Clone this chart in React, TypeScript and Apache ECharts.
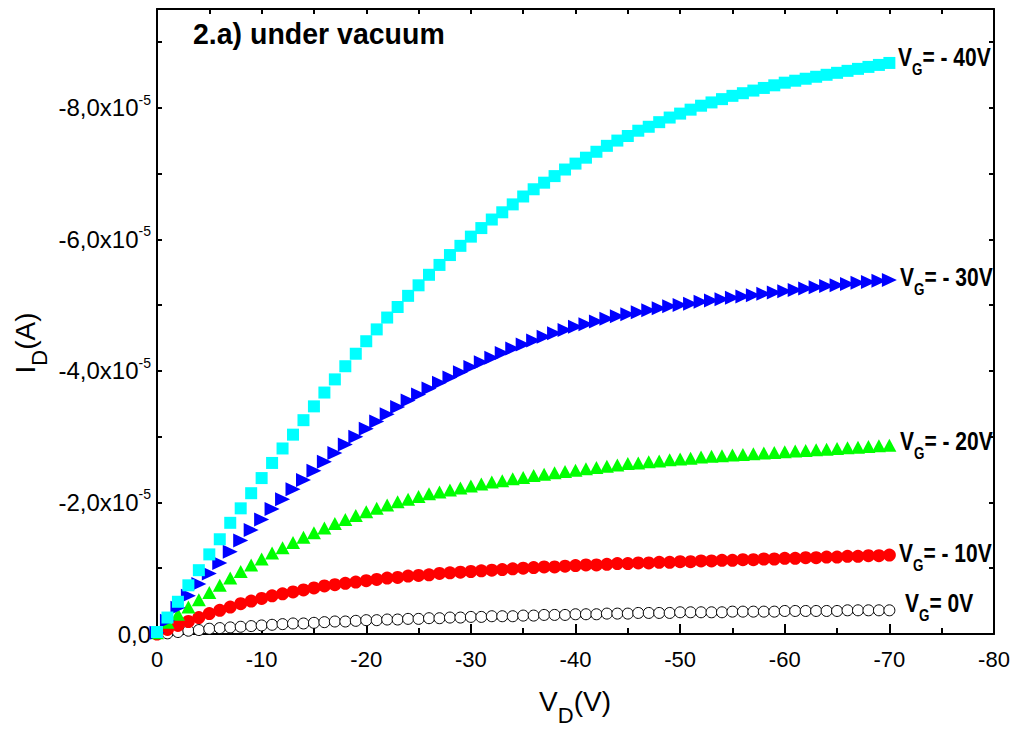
import React, { useEffect, useRef } from 'react';
import * as echarts from 'echarts';

// Drain voltage V_D (V)
const VD = [
  0, -1, -2, -3, -4, -5, -6, -7, -8, -9,
  -10, -11, -12, -13, -14, -15, -16, -17, -18, -19,
  -20, -21, -22, -23, -24, -25, -26, -27, -28, -29,
  -30, -31, -32, -33, -34, -35, -36, -37, -38, -39,
  -40, -41, -42, -43, -44, -45, -46, -47, -48, -49,
  -50, -51, -52, -53, -54, -55, -56, -57, -58, -59,
  -60, -61, -62, -63, -64, -65, -66, -67, -68, -69,
  -70,
];

// Drain current I_D in units of 1e-5 A
const ID_VG0 = [
  0.00, -0.01, -0.03, -0.05, -0.06, -0.08, -0.09, -0.10, -0.11, -0.12,
  -0.13, -0.14, -0.15, -0.16, -0.16, -0.17, -0.18, -0.19, -0.19, -0.20,
  -0.21, -0.21, -0.22, -0.22, -0.23, -0.23, -0.24, -0.24, -0.25, -0.25,
  -0.26, -0.26, -0.27, -0.27, -0.27, -0.28, -0.28, -0.29, -0.29, -0.29,
  -0.30, -0.30, -0.30, -0.31, -0.31, -0.31, -0.32, -0.32, -0.32, -0.32,
  -0.33, -0.33, -0.33, -0.33, -0.33, -0.34, -0.34, -0.34, -0.34, -0.34,
  -0.35, -0.35, -0.35, -0.35, -0.35, -0.35, -0.36, -0.36, -0.36, -0.36,
  -0.36,
];
const ID_VGm10 = [
  0.00, -0.07, -0.13, -0.19, -0.25, -0.31, -0.36, -0.41, -0.46, -0.50,
  -0.54, -0.58, -0.61, -0.64, -0.67, -0.70, -0.73, -0.75, -0.77, -0.79,
  -0.81, -0.83, -0.85, -0.86, -0.88, -0.89, -0.90, -0.92, -0.93, -0.94,
  -0.95, -0.96, -0.97, -0.98, -0.99, -1.00, -1.01, -1.02, -1.02, -1.03,
  -1.04, -1.05, -1.05, -1.06, -1.07, -1.07, -1.08, -1.08, -1.09, -1.09,
  -1.10, -1.10, -1.11, -1.11, -1.12, -1.12, -1.13, -1.13, -1.14, -1.14,
  -1.15, -1.15, -1.16, -1.16, -1.17, -1.17, -1.18, -1.18, -1.19, -1.19,
  -1.20,
];
const ID_VGm20 = [
  -0.02, -0.18, -0.30, -0.41, -0.52, -0.63, -0.74, -0.85, -0.95, -1.05,
  -1.14, -1.23, -1.31, -1.39, -1.47, -1.54, -1.61, -1.68, -1.74, -1.80,
  -1.86, -1.91, -1.96, -2.01, -2.05, -2.09, -2.13, -2.16, -2.19, -2.22,
  -2.25, -2.28, -2.31, -2.33, -2.36, -2.38, -2.41, -2.43, -2.45, -2.47,
  -2.49, -2.51, -2.53, -2.55, -2.57, -2.59, -2.60, -2.62, -2.63, -2.65,
  -2.66, -2.67, -2.69, -2.70, -2.71, -2.72, -2.73, -2.74, -2.75, -2.76,
  -2.77, -2.78, -2.79, -2.80, -2.81, -2.82, -2.83, -2.84, -2.85, -2.86,
  -2.87,
];
const ID_VGm30 = [
  -0.02, -0.20, -0.40, -0.58, -0.76, -0.92, -1.08, -1.25, -1.42, -1.58,
  -1.74, -1.90, -2.05, -2.20, -2.34, -2.48, -2.62, -2.75, -2.88, -3.00,
  -3.12, -3.23, -3.34, -3.45, -3.55, -3.64, -3.73, -3.82, -3.90, -3.98,
  -4.06, -4.13, -4.20, -4.27, -4.34, -4.40, -4.46, -4.52, -4.57, -4.62,
  -4.67, -4.71, -4.75, -4.79, -4.83, -4.86, -4.89, -4.92, -4.95, -4.98,
  -5.00, -5.02, -5.05, -5.07, -5.09, -5.11, -5.13, -5.15, -5.17, -5.19,
  -5.21, -5.23, -5.25, -5.27, -5.29, -5.30, -5.32, -5.34, -5.35, -5.37,
  -5.38,
];
const ID_VGm40 = [
  -0.03, -0.25, -0.49, -0.74, -0.97, -1.21, -1.44, -1.69, -1.91, -2.14,
  -2.37, -2.60, -2.82, -3.03, -3.25, -3.46, -3.67, -3.87, -4.07, -4.26,
  -4.45, -4.63, -4.81, -4.97, -5.14, -5.30, -5.46, -5.61, -5.76, -5.90,
  -6.04, -6.17, -6.30, -6.41, -6.53, -6.65, -6.76, -6.86, -6.96, -7.06,
  -7.15, -7.24, -7.33, -7.42, -7.50, -7.57, -7.65, -7.71, -7.78, -7.85,
  -7.91, -7.97, -8.03, -8.08, -8.13, -8.18, -8.22, -8.26, -8.30, -8.34,
  -8.38, -8.41, -8.44, -8.47, -8.50, -8.53, -8.56, -8.59, -8.62, -8.65,
  -8.68,
];

const Y_LABEL_VALUES = [-8, -6, -4, -2, 0];
const Y_TICK_VALUES = [-9, -8, -7, -6, -5, -4, -3, -2, -1, 0];
const VG_TEXTS = ['- 40V', '- 30V', '- 20V', '- 10V', '0V'];

const FONT = "'Liberation Sans', Arial, sans-serif";

const pairs = (ys: number[]) => VD.map((x, i) => [x, ys[i]]);

export default function App() {
  const ref = useRef<HTMLDivElement>(null);
  useEffect(() => {
    const chart = echarts.init(ref.current!, null, { renderer: 'svg' });
    const axisLine = { show: true, onZero: false, lineStyle: { color: '#000', width: 2 } };
    const vgRich = {
      v: { fontSize: 25, fontWeight: 'bold', fontFamily: FONT, color: '#000' },
      g: { fontSize: 16, fontWeight: 'bold', fontFamily: FONT, color: '#000', padding: [26, 0, 0, 0] },
    };
    const vgPos = [
      [898, 57],
      [900, 277],
      [900, 441],
      [899, 553],
      [905, 603],
    ];
    const option: any = {
      animation: false,
      backgroundColor: '#fff',
      grid: { left: 157, right: 23, top: 9, bottom: 97, containLabel: false },
      xAxis: [
        {
          type: 'value', position: 'bottom', min: -80, max: 0, interval: 10, inverse: true,
          axisLine,
          axisTick: { show: true, inside: true, length: 10, lineStyle: { color: '#000', width: 2 } },
          minorTick: { show: true, splitNumber: 2, length: 6, lineStyle: { color: '#000', width: 2 } },
          axisLabel: { color: '#000', fontSize: 22, fontFamily: FONT, margin: 14, formatter: (v: number) => String(v) },
          splitLine: { show: false },
        },
        {
          type: 'value', position: 'top', min: -80, max: 0, interval: 5, inverse: true,
          axisLine,
          axisTick: { show: true, inside: true, length: 5, lineStyle: { color: '#000', width: 2 } },
          axisLabel: { show: false },
          splitLine: { show: false },
        },
      ],
      yAxis: [
        {
          type: 'value', position: 'left', min: -9.5, max: 0, inverse: true,
          axisLine,
          axisTick: { show: true, inside: true, length: 5, customValues: Y_TICK_VALUES, lineStyle: { color: '#000', width: 2 } },
          axisLabel: {
            customValues: Y_LABEL_VALUES,
            margin: 6,
            color: '#000',
            formatter: (v: number) => (v === 0 ? '{a|0,0}' : `{a|${v.toFixed(1).replace('.', ',')}x10}{s|-5}`),
            rich: {
              a: { fontSize: 24, fontFamily: FONT, color: '#000' },
              s: { fontSize: 14, fontFamily: FONT, color: '#000', padding: [0, 0, 16, 0] },
            },
          },
          splitLine: { show: false },
        },
        {
          type: 'value', position: 'right', min: -9.5, max: 0, inverse: true,
          axisLine,
          axisTick: { show: true, inside: true, length: 5, customValues: Y_TICK_VALUES, lineStyle: { color: '#000', width: 2 } },
          axisLabel: { show: false },
          splitLine: { show: false },
        },
      ],
      series: [
        {
          name: 'VG=0V', type: 'scatter', data: pairs(ID_VG0), symbol: 'circle', symbolSize: 11,
          itemStyle: { color: '#fff', borderColor: '#000', borderWidth: 1, opacity: 1 },
        },
        {
          name: 'VG=-10V', type: 'scatter', data: pairs(ID_VGm10), symbol: 'circle', symbolSize: 13,
          itemStyle: { color: '#ff0000', opacity: 1 },
        },
        {
          name: 'VG=-20V', type: 'scatter', data: pairs(ID_VGm20), symbol: 'triangle', symbolSize: [14, 13],
          itemStyle: { color: '#00ff00', opacity: 1 },
        },
        {
          name: 'VG=-30V', type: 'scatter', data: pairs(ID_VGm30), symbol: 'triangle', symbolSize: [14, 15], symbolRotate: -90,
          itemStyle: { color: '#0000ff', opacity: 1 },
        },
        {
          name: 'VG=-40V', type: 'scatter', data: pairs(ID_VGm40), symbol: 'rect', symbolSize: 12,
          itemStyle: { color: '#00ffff', opacity: 1 },
        },
      ],
      graphic: [
        {
          type: 'text', x: 193, y: 34, scaleX: 0.95,
          style: { text: '2.a) under vacuum', fontSize: 30, fontWeight: 'bold', fontFamily: FONT, fill: '#000', align: 'left', verticalAlign: 'middle' },
        },
        ...VG_TEXTS.map((t, i) => ({
          type: 'text', x: vgPos[i][0], y: vgPos[i][1], scaleX: 0.84,
          style: { text: `{v|V}{g|G}{v|= ${t}}`, rich: vgRich, align: 'left', verticalAlign: 'middle', fill: '#000' },
        })),
        {
          type: 'text', x: 575, y: 701,
          style: {
            text: '{a|V}{s|D}{a|(V)}', align: 'center', verticalAlign: 'middle',
            rich: {
              a: { fontSize: 28, fontFamily: FONT, color: '#000' },
              s: { fontSize: 22, fontFamily: FONT, color: '#000', padding: [28, 0, 0, 0] },
            },
          },
        },
        {
          type: 'text', x: 25, y: 343, rotation: Math.PI / 2,
          style: {
            text: '{a|I}{s|D}{a|(A)}', align: 'center', verticalAlign: 'middle',
            rich: {
              a: { fontSize: 28, fontFamily: FONT, color: '#000' },
              s: { fontSize: 22, fontFamily: FONT, color: '#000', padding: [28, 0, 0, 0] },
            },
          },
        },
      ],
    };
    chart.setOption(option);
    return () => chart.dispose();
  }, []);
  return <div ref={ref} style={{ position: 'absolute', left: 0, top: 0, width: 1017, height: 731 }} />;
}
